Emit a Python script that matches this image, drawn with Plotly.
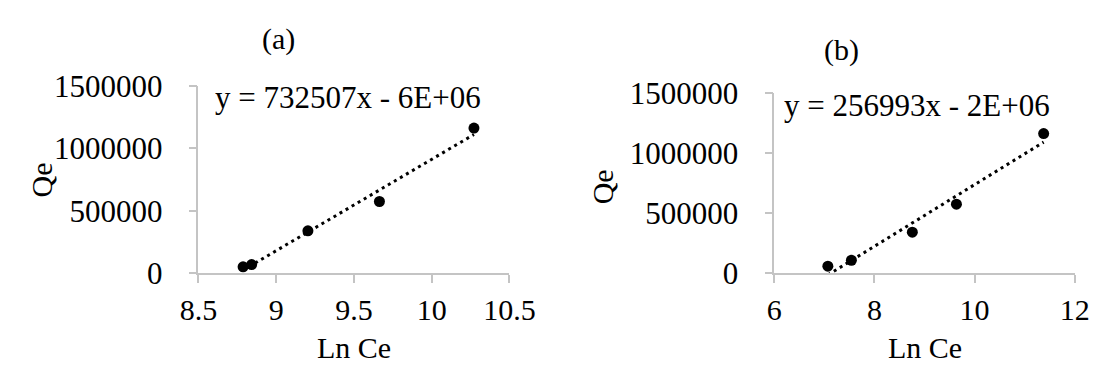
import numpy as np
import plotly.graph_objects as go

# ---- data ----
a_lnce = [8.787, 8.842, 9.204, 9.664, 10.272]
a_qe = [50000, 68000, 339000, 574000, 1163000]
b_lnce = [7.07, 7.54, 8.757, 9.638, 11.38]
b_qe = [58000, 107000, 341000, 575000, 1164000]
a_equation = "y = 732507x - 6E+06"
b_equation = "y = 256993x - 2E+06"
panel_titles = ["(a)", "(b)"]
x_title = "Ln Ce"
y_title = "Qe"
a_xticks = [8.5, 9, 9.5, 10, 10.5]
a_xticklabels = ["8.5", "9", "9.5", "10", "10.5"]
b_xticks = [6, 8, 10, 12]
y_ticks = [0, 500000, 1000000, 1500000]

W, H = 1117, 381
FONT = "Liberation Serif"
FS = 30
AXC = "#c4c4c4"


def px(x):
    return x / W


def py(y):
    return 1 - y / H


def trend(xs, ys):
    m, c = np.polyfit(xs, ys, 1)
    xe = np.array([min(xs), max(xs)])
    return xe, m * xe + c


fig = go.Figure()

for xs, ys, xa, ya in [(a_lnce, a_qe, "x", "y"), (b_lnce, b_qe, "x2", "y2")]:
    tx, ty = trend(xs, ys)
    fig.add_trace(go.Scatter(x=tx, y=ty, mode="lines", xaxis=xa, yaxis=ya,
                             line=dict(color="black", width=3, dash="3px,4px"),
                             showlegend=False, hoverinfo="skip"))
    fig.add_trace(go.Scatter(x=xs, y=ys, mode="markers", xaxis=xa, yaxis=ya,
                             marker=dict(color="black", size=11),
                             showlegend=False))

common_x = dict(showline=True, linecolor=AXC, linewidth=1.5, ticks="outside",
                tickcolor=AXC, ticklen=8, tickwidth=1.5, showgrid=False,
                zeroline=False, tickfont=dict(family=FONT, size=FS, color="black"),
                ticklabelstandoff=1)
common_y = dict(showline=True, linecolor=AXC, linewidth=1.5, ticks="outside",
                tickcolor=AXC, ticklen=8, tickwidth=1.5, showgrid=False,
                zeroline=False, tickfont=dict(family=FONT, size=31, color="black"),
                tickvals=y_ticks, ticktext=[str(v) for v in y_ticks],
                range=[0, 1500000], ticklabelstandoff=20)

fig.update_layout(
    width=W, height=H, margin=dict(l=0, r=0, t=0, b=0),
    paper_bgcolor="white", plot_bgcolor="white",
    xaxis=dict(domain=[px(187), px(511)], range=[8.5, 10.5], anchor="y",
               tickvals=a_xticks, ticktext=a_xticklabels, **common_x),
    yaxis=dict(domain=[py(282), py(76)], anchor="x", **common_y),
    xaxis2=dict(domain=[px(787), px(1100)], range=[6, 12], anchor="y2",
                tickvals=b_xticks, ticktext=[str(v) for v in b_xticks], **common_x),
    yaxis2=dict(domain=[py(282), py(84)], anchor="x2", **common_y),
)

ann = [
    (panel_titles[0], 270, 24, 0, FS),
    (panel_titles[1], 857, 36, 0, FS),
    (y_title, 23, 180, -90, FS),
    (y_title, 608, 187, -90, FS),
    (x_title, 349, 364, 0, FS),
    (x_title, 944, 364, 0, FS),
    (a_equation, 343, 89, 0, 31),
    (b_equation, 936, 98, 0, 31),
]
for text, x, y, ang, fs in ann:
    fig.add_annotation(text=text, x=px(x), y=py(y), xref="paper", yref="paper",
                       xanchor="center", yanchor="middle", showarrow=False,
                       textangle=ang, font=dict(family=FONT, size=fs, color="black"))

fig.write_html("out.html")
